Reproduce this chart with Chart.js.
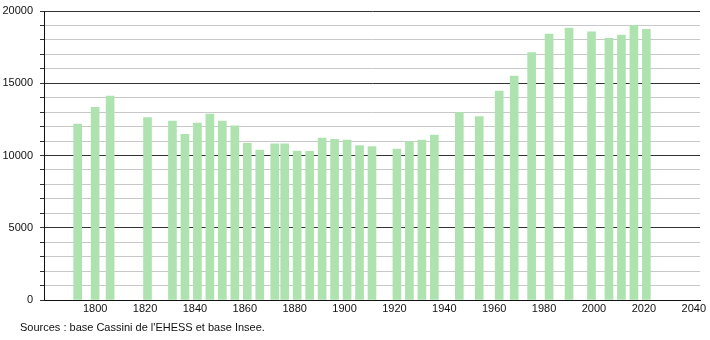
<!DOCTYPE html>
<html>
<head>
<meta charset="utf-8">
<script src="https://cdn.jsdelivr.net/npm/chart.js@4"></script>
<style>
  body { margin: 0; background: #fff; }
  #wrap { width: 710px; height: 340px; position: relative; }
  #source { position: absolute; left: 20px; top: 321px; font: 11px 'Liberation Sans', Arial, sans-serif; color: #111; line-height: 13px; }
</style>
</head>
<body>
<div id="wrap">
  <canvas id="popChart" width="710" height="340"></canvas>
  <div id="source"></div>
</div>
<script>
// census years and population
const years = [1793, 1800, 1806, 1821, 1831, 1836, 1841, 1846, 1851, 1856,
  1861, 1866, 1872, 1876, 1881, 1886, 1891, 1896, 1901, 1906, 1911,
  1921, 1926, 1931, 1936, 1946, 1954, 1962, 1968, 1975, 1982, 1990,
  1999, 2006, 2011, 2016, 2021];
const population = [12180, 13330, 14120, 12620, 12390, 11470, 12250, 12870, 12390, 12060,
  10840, 10380, 10800, 10800, 10310, 10290, 11210, 11120, 11070, 10680, 10610,
  10450, 10960, 11070, 11420, 12990, 12690, 14460, 15500, 17120, 18410, 18820,
  18550, 18110, 18340, 19010, 18730];
const yTicks = [0, 5000, 10000, 15000, 20000];
const sourceText = "Sources : base Cassini de l'EHESS et base Insee.";

document.getElementById('source').textContent = sourceText;

const font = { family: "'Liberation Sans', Arial, sans-serif", size: 11 };

new Chart(document.getElementById('popChart'), {
    type: 'bar',
    data: {
        datasets: [{
            data: years.map((y, i) => ({ x: y, y: population[i] })),
            backgroundColor: '#aee3b0',
            borderWidth: 0,
            barThickness: 8
        }]
    },
    options: {
        responsive: false,
        animation: false,
        layout: { padding: { left: 0, right: 10, top: 11, bottom: 24 } },
        plugins: {
            legend: { display: false },
            tooltip: { enabled: false }
        },
        scales: {
            x: {
                type: 'linear',
                offset: false,
                min: 1779.5,
                max: 2042.5,
                afterFit: s => { s.height = 16; },
                grid: { display: false, drawTicks: false, tickLength: 0 },
                border: { display: true, color: '#111', width: 1 },
                ticks: {
                    stepSize: 20,
                    includeBounds: false,
                    autoSkip: false,
                    color: '#111',
                    font: font,
                    maxRotation: 0,
                    padding: 2,
                    callback: v => (v >= 1800 && v % 20 === 0) ? String(v) : ''
                }
            },
            y: {
                min: 0,
                max: 20000,
                afterFit: s => {
                    s.width = 44;
                    s.paddingTop = 0;
                    s.paddingBottom = 0;
                },
                grid: {
                    color: ctx => yTicks.includes(ctx.tick.value) ? '#333' : '#c8c8c8',
                    tickColor: '#333',
                    tickLength: 4
                },
                border: { display: true, color: '#111', width: 1 },
                ticks: {
                    stepSize: 1000,
                    autoSkip: false,
                    color: '#111',
                    font: font,
                    padding: 7,
                    callback: v => yTicks.includes(v) ? String(v) : ''
                }
            }
        }
    }
});
</script>
</body>
</html>
